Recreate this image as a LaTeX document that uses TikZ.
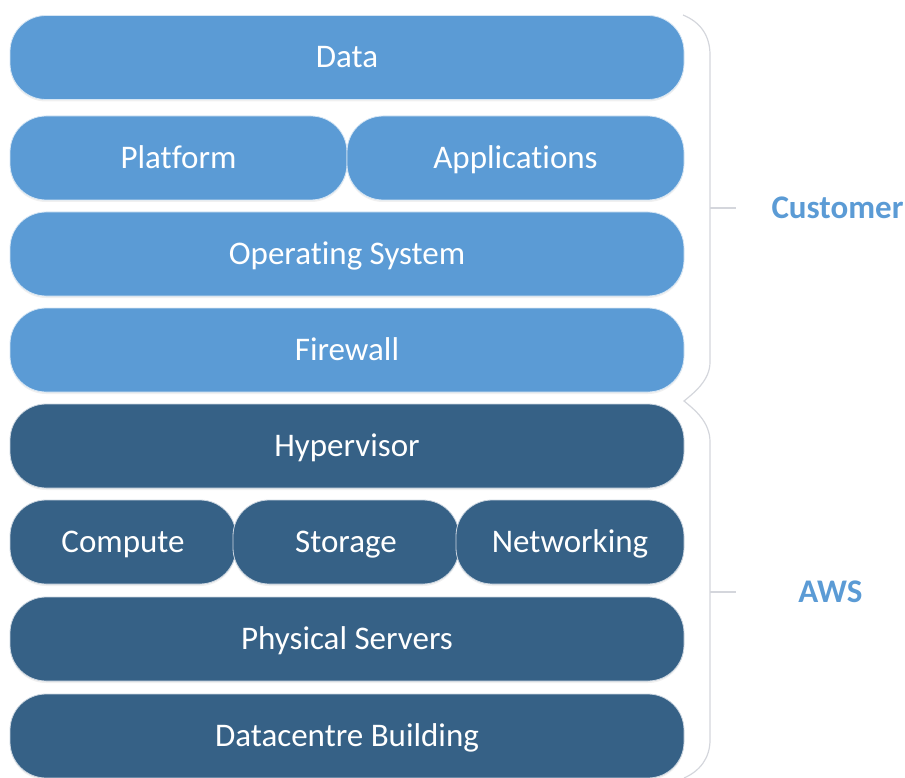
\documentclass[tikz,border=0pt]{standalone}
\usepackage{fontspec}
\setmainfont[Ligatures=NoCommon]{Carlito}
\usetikzlibrary{positioning,shadows}
\definecolor{custblue}{HTML}{5B9BD5}
\definecolor{awsblue}{HTML}{366186}
\definecolor{bracegrey}{HTML}{D4D6DC}

\begin{document}
\begin{tikzpicture}[x=1pt,y=-1pt,
	lay/.style={rounded corners=36pt,minimum height=84pt,inner sep=0pt,text height=24pt,text depth=3pt,text=white,font=\fontsize{33}{33}\selectfont,draw=white!75!#1,line width=0.8pt,fill=#1,drop shadow={opacity=0.12,shadow xshift=0pt,shadow yshift=-2pt}},
	side/.style={text=custblue,font=\fontsize{33}{33}\selectfont\bfseries,inner sep=0pt,text height=24pt,text depth=3pt}]

\useasboundingbox (0,0) rectangle (905,778);

\foreach \n/\y/\t in {data/57.5/Data,os/254/Operating System,fw/350/Firewall}{
	\node[lay=custblue,minimum width=674pt](\n) at (347,\y) {\t};
}
\node[lay=custblue,minimum width=337pt](plat) at (178.5,158) {Platform};
\node[lay=custblue,minimum width=337pt](apps) at (515.5,158) {Applications};

\foreach \n/\y/\t in {hyp/446/Hypervisor,phys/639/Physical Servers,dc/736/Datacentre Building}{
	\node[lay=awsblue,minimum width=674pt](\n) at (347,\y) {\t};
}
\node[lay=awsblue,minimum width=226pt](comp) at (123,542) {Compute};
\node[lay=awsblue,minimum width=226pt](stor) at (346,542) {Storage};
\node[lay=awsblue,minimum width=228pt](net) at (570,542) {Networking};

\draw[bracegrey,line width=1.2pt] (683,15) .. controls (700,22) and (710,35) .. (710,55) -- (710,362)
	.. controls (710,380) and (695,392) .. (684,401) .. controls (695,410) and (710,422) .. (710,442)
	-- (710,740) .. controls (710,758) and (700,771) .. (684,778);

\coordinate(ctick) at (710,208);
\coordinate(atick) at (710,592);
\draw[bracegrey,line width=1.2pt](ctick)--++(26,0);
\draw[bracegrey,line width=1.2pt](atick)--++(26,0);

\node[side](cust) at (837.5,208) {Customer};
\node[side](aws) at (830.5,592) {AWS};

\end{tikzpicture}
\end{document}
